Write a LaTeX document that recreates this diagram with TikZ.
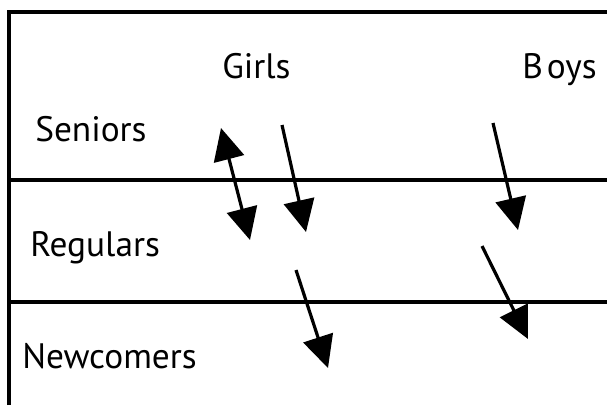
\documentclass[tikz,border=0pt]{standalone}
\usepackage{fontspec}
\setmainfont{PT Sans}
\usetikzlibrary{arrows.meta}
\begin{document}
\begin{tikzpicture}[x=0.75pt,y=-0.75pt,
  frame/.style={line width=2.5pt},
  lbl/.style={font=\fontsize{26.5}{30}\selectfont, inner sep=0pt, anchor=base west},
  arr/.style={line width=2.4pt, -{Triangle[length=24pt,width=23pt]}},
  darr/.style={line width=2.4pt, {Triangle[length=24pt,width=23pt]}-{Triangle[length=24pt,width=23pt]}}]
\useasboundingbox (0,0) rectangle (607,405);
\coordinate (tl) at (9,12);
\coordinate (tr) at (607,12);
\coordinate (bl) at (9,405);
\coordinate (l1) at (9,180);
\coordinate (r1) at (607,180);
\coordinate (l2) at (9,302);
\coordinate (r2) at (607,302);
\draw[frame] (bl) -- (tl) -- (tr);
\draw[frame] (l1) -- (r1);
\draw[frame] (l2) -- (r2);
\node[lbl] (girls) at (222,78) {Girls};
\node[lbl] (boys) at (522,78) {B\kern3pt oys};
\node[lbl] (sen) at (35,141) {Seniors};
\node[lbl] (reg) at (30,256) {Regulars};
\node[lbl] (new) at (22,368) {Newcomers};
\coordinate (a1s) at (221,128); \coordinate (a1e) at (250,240);
\coordinate (a2s) at (282,125); \coordinate (a2e) at (306,232);
\coordinate (a3s) at (296,270); \coordinate (a3e) at (328,368);
\coordinate (b1s) at (493,123); \coordinate (b1e) at (518,230);
\coordinate (b2s) at (482,246); \coordinate (b2e) at (528,339);
\draw[darr] (a1s) -- (a1e);
\draw[arr] (a2s) -- (a2e);
\draw[arr] (a3s) -- (a3e);
\draw[arr] (b1s) -- (b1e);
\draw[arr] (b2s) -- (b2e);
\end{tikzpicture}
\end{document}
